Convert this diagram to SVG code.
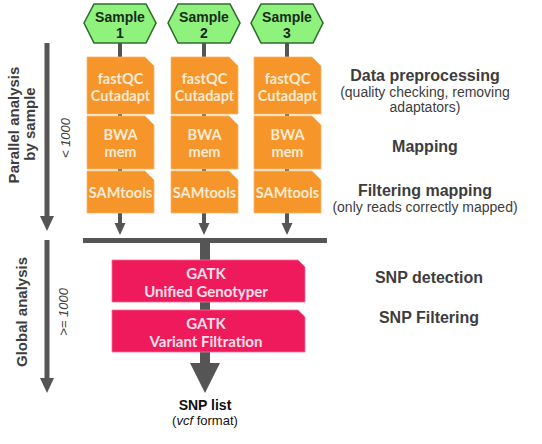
<svg xmlns="http://www.w3.org/2000/svg" width="542" height="444" viewBox="0 0 542 444">
<defs>
<style>
.hex{fill:#8ef27c;stroke:#2f6e2f;stroke-width:1.6}
.hext{font-family:"Liberation Sans",Arial,sans-serif;font-weight:bold;font-size:14px;fill:#1b2a1b;text-anchor:middle}
.org{fill:#f5952a;stroke:#f8b56a;stroke-width:0.8}
.ot{font-family:Lato,"Open Sans",sans-serif;font-weight:bold;font-size:14.5px;fill:#fdebd3;text-anchor:middle}
.pink{fill:#ee1a5b;stroke:#f56d94;stroke-width:0.8}
.pt{font-family:Lato,"Open Sans",sans-serif;font-weight:bold;font-size:15px;fill:#fde0ea;text-anchor:middle}
.conn{fill:#555555;stroke:none}
.line{stroke:#555555;fill:none}
.h{font-family:"Liberation Sans",Arial,sans-serif;font-weight:bold;font-size:16px;fill:#3d3d3d;text-anchor:middle}
.s{font-family:"Liberation Sans",Arial,sans-serif;font-size:14px;fill:#3d3d3d;text-anchor:middle}
.lt{font-family:"Liberation Sans",Arial,sans-serif;font-weight:bold;font-size:15px;fill:#3d3d3d;text-anchor:middle}
.it{font-family:"Liberation Sans",Arial,sans-serif;font-style:italic;font-size:13px;fill:#3d3d3d;text-anchor:middle}
</style>
</defs>
<rect width="542" height="444" fill="#ffffff"/>

<g id="connectors">
  <rect class="conn" x="118" y="43" width="4" height="172"/>
  <rect class="conn" x="202" y="43" width="4" height="172"/>
  <rect class="conn" x="285" y="43" width="4" height="172"/>
  <rect class="conn" x="118" y="212" width="4" height="12"/>
  <polygon class="conn" points="114.5,223 125.5,223 120,235"/>
  <rect class="conn" x="202" y="212" width="4" height="12"/>
  <polygon class="conn" points="198.5,223 209.5,223 204,235"/>
  <rect class="conn" x="285" y="212" width="4" height="12"/>
  <polygon class="conn" points="281.5,223 292.5,223 287,235"/>
  <rect class="conn" x="83" y="238" width="244" height="5"/>
  <rect class="conn" x="200" y="238" width="10" height="126"/>
  <polygon class="conn" points="190,363 220,363 205,393"/>
  <line class="line" x1="47" y1="43" x2="47" y2="218" stroke-width="5"/>
  <polygon class="conn" points="40,216 54,216 47,231"/>
  <line class="line" x1="47" y1="240" x2="47" y2="380" stroke-width="5"/>
  <polygon class="conn" points="40,378 54,378 47,393"/>
</g>

<g id="sample1">
  <polygon class="hex" points="84,23 94,4 146,4 156,23 146,43 94,43"/>
  <text class="hext" x="120" y="22">Sample</text>
  <text class="hext" x="120" y="38">1</text>
</g>
<g id="sample2">
  <polygon class="hex" points="168,23 178,4 230,4 240,23 230,43 178,43"/>
  <text class="hext" x="204" y="22">Sample</text>
  <text class="hext" x="204" y="38">2</text>
</g>
<g id="sample3">
  <polygon class="hex" points="251,23 261,4 313,4 323,23 313,43 261,43"/>
  <text class="hext" x="287" y="22">Sample</text>
  <text class="hext" x="287" y="38">3</text>
</g>

<g id="fastqc1">
  <polygon class="org" points="87,57 145,57 154,66 154,114 87,114"/>
  <text class="ot" x="120.5" y="84">fastQC</text>
  <text class="ot" x="120.5" y="101">Cutadapt</text>
</g>
<g id="fastqc2">
  <polygon class="org" points="171,57 229,57 238,66 238,114 171,114"/>
  <text class="ot" x="204.5" y="84">fastQC</text>
  <text class="ot" x="204.5" y="101">Cutadapt</text>
</g>
<g id="fastqc3">
  <polygon class="org" points="254,57 312,57 321,66 321,114 254,114"/>
  <text class="ot" x="287.5" y="84">fastQC</text>
  <text class="ot" x="287.5" y="101">Cutadapt</text>
</g>

<g id="bwa1">
  <polygon class="org" points="87,116 145,116 154,125 154,169 87,169"/>
  <text class="ot" x="120.5" y="140">BWA</text>
  <text class="ot" x="120.5" y="157">mem</text>
</g>
<g id="bwa2">
  <polygon class="org" points="171,116 229,116 238,125 238,169 171,169"/>
  <text class="ot" x="204.5" y="140">BWA</text>
  <text class="ot" x="204.5" y="157">mem</text>
</g>
<g id="bwa3">
  <polygon class="org" points="254,116 312,116 321,125 321,169 254,169"/>
  <text class="ot" x="287.5" y="140">BWA</text>
  <text class="ot" x="287.5" y="157">mem</text>
</g>

<g id="samtools1">
  <polygon class="org" points="87,171 145,171 154,180 154,213 87,213"/>
  <text class="ot" x="120.5" y="198">SAMtools</text>
</g>
<g id="samtools2">
  <polygon class="org" points="171,171 229,171 238,180 238,213 171,213"/>
  <text class="ot" x="204.5" y="198">SAMtools</text>
</g>
<g id="samtools3">
  <polygon class="org" points="254,171 312,171 321,180 321,213 254,213"/>
  <text class="ot" x="287.5" y="198">SAMtools</text>
</g>

<g id="gatk1">
  <polygon class="pink" points="112,260 298,260 305,267 305,302 112,302"/>
  <text class="pt" x="206" y="279">GATK</text>
  <text class="pt" x="206" y="297">Unified Genotyper</text>
</g>
<g id="gatk2">
  <polygon class="pink" points="112,310 298,310 305,317 305,352 112,352"/>
  <text class="pt" x="206" y="329">GATK</text>
  <text class="pt" x="206" y="347">Variant Filtration</text>
</g>

<g id="snplist">
  <text class="lt" x="205" y="410" style="font-size:14px;fill:#111">SNP list</text>
  <text class="s" x="205" y="425" style="font-size:13px;fill:#111">(<tspan font-style="italic">vcf</tspan> format)</text>
</g>

<g id="labels">
  <text class="h" x="425" y="81">Data preprocessing</text>
  <text class="s" x="425" y="97">(quality checking, removing</text>
  <text class="s" x="425" y="112">adaptators)</text>
  <text class="h" x="425" y="152">Mapping</text>
  <text class="h" x="425" y="196">Filtering mapping</text>
  <text class="s" x="425" y="212">(only reads correctly mapped)</text>
  <text class="h" x="429" y="283">SNP detection</text>
  <text class="h" x="429" y="323">SNP Filtering</text>
</g>

<g id="side">
  <text class="lt" transform="translate(19,125) rotate(-90)">Parallel analysis</text>
  <text class="lt" transform="translate(35,124) rotate(-90)">by sample</text>
  <text class="it" transform="translate(70,138) rotate(-90)">&lt; 1000</text>
  <text class="lt" transform="translate(27,312) rotate(-90)">Global analysis</text>
  <text class="it" transform="translate(68,312) rotate(-90)">&gt;= 1000</text>
</g>
</svg>
